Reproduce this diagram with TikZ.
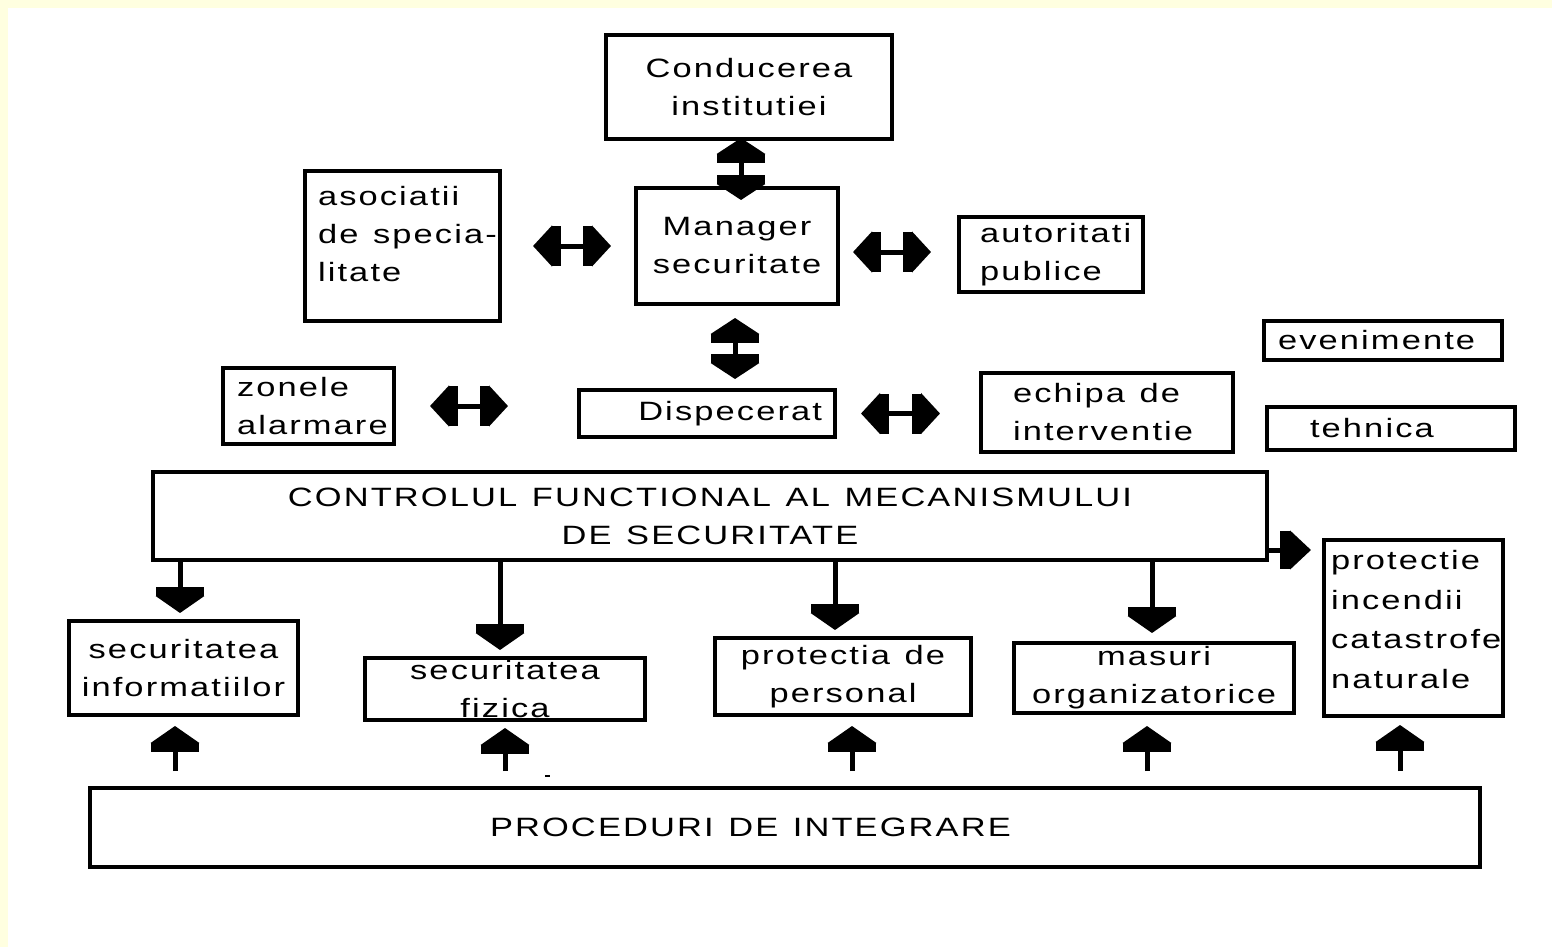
\documentclass[tikz,border=0pt]{standalone}
\usepackage{fontspec}
\newfontfamily\boxfont{Liberation Sans}[FakeStretch=1.3,LetterSpace=8,WordSpace=1.25]
\usetikzlibrary{arrows.meta}
\definecolor{pagebg}{RGB}{255,255,224}
\hyphenpenalty=10000
\exhyphenpenalty=10000

\tikzset{
  blk/.style={draw, line width=4pt, inner sep=0pt,
    font=\boxfont\fontsize{26.5pt}{38pt}\selectfont},
  lft/.style={blk, align=flush left},
  mid/.style={blk, align=center},
  wire/.style={line width=5pt},
  both/.style={wire, arrows={{Triangle[width=48pt,length=16pt]Rectangle[width=48pt,length=9pt]}-{Rectangle[width=48pt,length=9pt]Triangle[width=48pt,length=16pt]}}},
  side/.style={wire, arrows={{Triangle[width=40pt,length=19pt]Rectangle[width=40pt,length=9pt]}-{Rectangle[width=40pt,length=9pt]Triangle[width=40pt,length=19pt]}}},
  one/.style={wire, arrows={-{Rectangle[width=48pt,length=9pt]Triangle[width=48pt,length=17pt]}}},
  fwd/.style={wire, arrows={-{Rectangle[width=38pt,length=10pt]Triangle[width=38pt,length=21pt]}}},
}

\begin{document}
\begin{tikzpicture}[x=1pt,y=-1pt]

  \fill[pagebg] (0,0) rectangle (1552,947);
  \fill[white] (8,8) rectangle (1552,947);
  \useasboundingbox (0,0) rectangle (1552,947);

  % top part
  \node[mid, minimum width=286pt, minimum height=104pt] (lead) at (749,87) {Conducerea\\institutiei};
  \node[mid, minimum width=202pt, minimum height=116pt] (mgr) at (737,246) {Manager\\securitate};
  \node[lft, minimum width=195pt, minimum height=150pt, text width=169pt] (assoc) at (402.5,246) {asociatii\\\mbox{de specia-}\\litate\\[-14pt]\mbox{}};
  \node[lft, minimum width=184pt, minimum height=75pt, text width=142pt] (auth) at (1051,254.5) {autoritati\\publice};

  \node[lft, minimum width=238pt, minimum height=39pt, text width=210pt] (events) at (1383,340.5) {evenimente};
  \node[lft, minimum width=248pt, minimum height=43pt, text width=162pt] (tech) at (1391,428.5) {tehnica};

  \node[lft, minimum width=171pt, minimum height=76pt, text width=143pt] (zones) at (308.5,406) {zonele\\alarmare};
  \node[blk, align=flush right, minimum width=256pt, minimum height=47pt, text width=230pt] (disp) at (707,413.5) {Dispecerat};
  \node[lft, minimum width=252pt, minimum height=79pt, text width=188pt] (team) at (1107,412.5) {\mbox{echipa de}\\interventie};

  \draw[both, shorten <=-3pt, shorten >=-14pt] ([xshift=4pt]mgr.north |- lead.south) -- ([xshift=4pt]mgr.north);
  \draw[both, shorten <=12pt, shorten >=9pt] ([xshift=-2pt]mgr.south) -- ([xshift=-2pt]mgr.south |- disp.north);
  \draw[side, shorten <=31pt, shorten >=23pt] (assoc.east |- mgr.west) -- (mgr.west);
  \draw[side, shorten <=13pt, shorten >=26pt] ([yshift=-6pt]mgr.east) -- ([yshift=-6pt]mgr.east -| auth.west);
  \draw[side, shorten <=34pt, shorten >=69pt] (zones.east) -- (zones.east -| disp.west);
  \draw[side, shorten <=24pt, shorten >=39pt] (disp.east) -- (disp.east -| team.west);

  % control and the five areas
  \node[mid, minimum width=1114pt, minimum height=88pt] (ctrl) at (710,516) {CONTROLUL FUNCTIONAL AL MECANISMULUI\\DE SECURITATE};

  \node[mid, minimum width=229pt, minimum height=94pt] (info) at (183.5,668) {securitatea\\informatiilor};
  \node[mid, minimum width=280pt, minimum height=62pt] (phys) at (505,689) {securitatea\\fizica};
  \node[mid, minimum width=256pt, minimum height=77pt] (staff) at (843,676.5) {protectia de\\personal};
  \node[mid, minimum width=280pt, minimum height=70pt] (org) at (1154,678) {masuri\\organizatorice};
  \node[lft, minimum width=179pt, minimum height=176pt, text width=165pt,
    font=\boxfont\fontsize{26.5pt}{39.5pt}\selectfont] (fire) at (1413.5,628) {protectie\\incendii\\catastrofe\\naturale\\[-22pt]\mbox{}};

  \draw[one, shorten >=6pt] ([xshift=-3.5pt]info.north |- ctrl.south) -- ([xshift=-3.5pt]info.north);
  \draw[one, shorten >=6pt] ([xshift=-5pt]phys.north |- ctrl.south) -- ([xshift=-5pt]phys.north);
  \draw[one, shorten >=6pt] ([xshift=-8pt]staff.north |- ctrl.south) -- ([xshift=-8pt]staff.north);
  \draw[one, shorten >=8pt] ([xshift=-2pt]org.north |- ctrl.south) -- ([xshift=-2pt]org.north);
  \draw[fwd, shorten >=11pt] ([yshift=12pt]ctrl.south east) -- ([yshift=12pt]ctrl.south east -| fire.west);

  % integration
  \node[lft, minimum width=1390pt, minimum height=79pt, text width=590pt] (integ) at (785,827.5) {PROCEDURI DE INTEGRARE};

  \draw[one, shorten <=15pt, shorten >=9pt] ([xshift=-8.5pt]info.south |- integ.north) -- ([xshift=-8.5pt]info.south);
  \draw[one, shorten <=15pt, shorten >=6pt] (phys.south |- integ.north) -- (phys.south);
  \draw[one, shorten <=15pt, shorten >=9pt] ([xshift=9pt]staff.south |- integ.north) -- ([xshift=9pt]staff.south);
  \draw[one, shorten <=15pt, shorten >=11pt] ([xshift=-7pt]org.south |- integ.north) -- ([xshift=-7pt]org.south);
  \draw[one, shorten <=15pt, shorten >=7pt] ([xshift=-13.5pt]fire.south |- integ.north) -- ([xshift=-13.5pt]fire.south);

  \fill (545,775) rectangle (550,777);

\end{tikzpicture}
\end{document}
